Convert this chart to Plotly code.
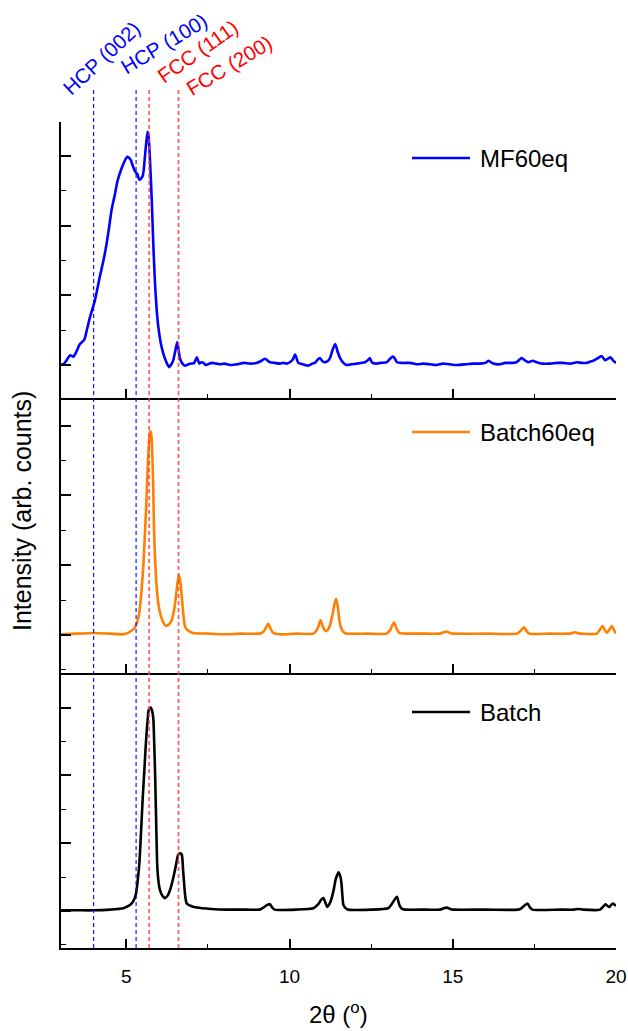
import plotly.graph_objects as go

# ---------------- data ----------------
series_names = ["MF60eq", "Batch60eq", "Batch"]
series_colors = ["#0000ff", "#ff8000", "#000000"]

mf_x = [3.00, 3.10, 3.20, 3.28, 3.38, 3.48, 3.58, 3.71, 3.80, 3.89, 4.04, 4.19, 4.30, 4.40, 4.48,
        4.55, 4.65, 4.74, 4.86, 4.95, 5.03, 5.13, 5.20, 5.27, 5.34, 5.40, 5.50, 5.58, 5.65, 5.68,
        5.73, 5.78, 5.83, 5.88, 5.93, 5.98, 6.05, 6.13, 6.22, 6.31, 6.38, 6.44, 6.50, 6.56, 6.60,
        6.64, 6.72, 6.80, 6.90, 7.00, 7.08, 7.16, 7.24, 7.30, 7.36, 7.44, 7.55, 7.65, 7.76, 7.87,
        8.00, 8.18, 8.40, 8.60, 8.80, 8.99, 9.10, 9.25, 9.40, 9.55, 9.70, 9.81, 9.92, 10.01, 10.10,
        10.17, 10.27, 10.40, 10.57, 10.70, 10.78, 10.85, 10.93, 11.02, 11.09, 11.18, 11.24, 11.32,
        11.40, 11.48, 11.55, 11.65, 11.75, 11.90, 12.06, 12.20, 12.31, 12.40, 12.46, 12.52, 12.65,
        12.80, 12.98, 13.08, 13.16, 13.22, 13.29, 13.45, 13.69, 13.90, 14.10, 14.30, 14.50, 14.70,
        14.90, 15.12, 15.40, 15.60, 15.83, 16.00, 16.09, 16.24, 16.45, 16.60, 16.75, 16.95, 17.05,
        17.11, 17.20, 17.31, 17.45, 17.57, 17.75, 17.98, 18.20, 18.38, 18.60, 18.80, 18.95, 19.10,
        19.22, 19.30, 19.42, 19.56, 19.66, 19.75, 19.83, 19.92, 20.00]
mf_y = [0.00, 0.02, 0.09, 0.14, 0.12, 0.20, 0.30, 0.36, 0.52, 0.69, 0.93, 1.27, 1.50, 1.75, 2.00,
        2.23, 2.45, 2.66, 2.83, 2.93, 2.99, 2.95, 2.86, 2.78, 2.74, 2.66, 2.71, 3.04, 3.35, 3.30,
        2.90, 2.37, 1.70, 1.17, 0.80, 0.55, 0.33, 0.17, 0.05, -0.03, 0.01, 0.07, 0.20, 0.33, 0.22,
        0.10, 0.02, -0.01, 0.01, 0.02, 0.03, 0.11, 0.02, 0.04, 0.03, 0.00, 0.02, 0.03, 0.02, 0.01,
        0.02, 0.00, 0.01, 0.03, 0.02, 0.03, 0.05, 0.09, 0.04, 0.03, 0.02, 0.03, 0.02, 0.04, 0.08,
        0.15, 0.03, 0.01, -0.01, 0.02, 0.03, 0.07, 0.10, 0.05, 0.04, 0.06, 0.10, 0.22,
        0.30, 0.18, 0.10, 0.03, 0.00, 0.01, 0.02, 0.03, 0.04, 0.07, 0.10, 0.04, 0.02,
        0.03, 0.04, 0.09, 0.12, 0.10, 0.04, 0.03, 0.03, 0.01, 0.02, 0.01, 0.00, 0.02,
        0.01, 0.00, 0.01, 0.02, 0.02, 0.03, 0.06, 0.02, 0.01, 0.03, 0.03, 0.04, 0.08,
        0.10, 0.07, 0.04, 0.06, 0.04, 0.02, 0.02, 0.03, 0.03, 0.02, 0.04, 0.03, 0.03,
        0.05, 0.06, 0.09, 0.13, 0.07, 0.09, 0.11, 0.06, 0.03]

b60_x = [3.00, 3.50, 3.99, 4.50, 4.91, 5.05, 5.16, 5.25, 5.32, 5.38, 5.42, 5.47, 5.52, 5.56, 5.60,
         5.64, 5.67, 5.71, 5.74, 5.77, 5.80, 5.83, 5.85, 5.89, 5.93, 5.98, 6.05, 6.13, 6.22, 6.30,
         6.39, 6.46, 6.52, 6.57, 6.61, 6.65, 6.70, 6.75, 6.80, 6.90, 7.05, 7.50, 7.97, 8.50, 9.09,
         9.18, 9.25, 9.35, 9.42, 9.50, 9.70, 10.20, 10.73, 10.82, 10.88, 10.95, 11.02, 11.10, 11.17,
         11.24, 11.32, 11.38, 11.43, 11.48, 11.53, 11.58, 11.66, 11.75, 12.40, 12.97, 13.08, 13.20,
         13.28, 13.36, 13.60, 14.20, 14.61, 14.72, 14.81, 14.92, 15.01, 16.00, 16.96, 17.08, 17.18,
         17.27, 17.34, 18.00, 18.59, 18.74, 18.90, 19.41, 19.50, 19.59, 19.66, 19.72, 19.80, 19.87,
         19.93, 20.00]
b60_y = [0.01, 0.02, 0.03, 0.02, 0.01, 0.03, 0.06, 0.10, 0.17, 0.27, 0.41, 0.65, 0.98, 1.35, 1.74,
         2.20, 2.55, 2.85, 2.92, 2.85, 2.55, 2.00, 1.50, 1.00, 0.69, 0.45, 0.29, 0.18, 0.13, 0.15,
         0.21, 0.35, 0.55, 0.75, 0.86, 0.78, 0.55, 0.28, 0.12, 0.06, 0.03, 0.02, 0.01, 0.02, 0.02,
         0.04, 0.08, 0.16, 0.09, 0.03, 0.01, 0.02, 0.02, 0.06, 0.12, 0.21, 0.12, 0.06, 0.07,
         0.14, 0.30, 0.45, 0.52, 0.40, 0.20, 0.10, 0.04, 0.02, 0.02, 0.02, 0.07, 0.18,
         0.09, 0.03, 0.02, 0.02, 0.02, 0.04, 0.05, 0.03, 0.02, 0.02, 0.02, 0.06, 0.11,
         0.05, 0.02, 0.02, 0.02, 0.04, 0.02, 0.02, 0.07, 0.13, 0.07, 0.03, 0.08, 0.13,
         0.08, 0.02]

batch_x = [3.00, 3.50, 4.00, 4.50, 4.91, 5.05, 5.16, 5.24, 5.30, 5.35, 5.40, 5.45, 5.50, 5.55, 5.60,
           5.65, 5.69, 5.75, 5.80, 5.83, 5.86, 5.89, 5.92, 5.95, 5.99, 6.03, 6.10, 6.19, 6.27, 6.34,
           6.42, 6.49, 6.55, 6.59, 6.65, 6.70, 6.74, 6.77, 6.81, 6.85, 7.00, 7.16, 7.60, 8.10, 8.70,
           9.09, 9.20, 9.32, 9.40, 9.47, 9.55, 10.20, 10.73, 10.88, 10.96, 11.04, 11.10, 11.16, 11.22,
           11.29, 11.36, 11.41, 11.50, 11.55, 11.59, 11.62, 11.65, 11.72, 11.80, 12.50, 13.02, 13.10,
           13.18, 13.29, 13.34, 13.38, 13.45, 13.54, 14.20, 14.62, 14.72, 14.82, 14.92, 15.02, 16.00,
           17.00, 17.10, 17.20, 17.29, 17.37, 17.44, 18.30, 18.71, 18.85, 19.00, 19.51, 19.60, 19.68,
           19.75, 19.80, 19.85, 19.91, 19.96, 20.00]
batch_y = [0.01, 0.01, 0.01, 0.02, 0.04, 0.07, 0.11, 0.17, 0.26, 0.45, 0.70, 1.15, 1.64, 2.05, 2.47,
           2.80, 2.97, 3.00, 2.93, 2.82, 2.40, 1.88, 1.20, 0.65, 0.42, 0.31, 0.23, 0.19, 0.23, 0.31,
           0.45, 0.60, 0.75, 0.83, 0.85, 0.83, 0.60, 0.41, 0.20, 0.11, 0.07, 0.05, 0.03, 0.02, 0.02,
           0.02, 0.05, 0.09, 0.10, 0.05, 0.02, 0.02, 0.04, 0.10, 0.16, 0.19, 0.12, 0.06, 0.10,
           0.19, 0.33, 0.46, 0.57, 0.52, 0.41, 0.22, 0.09, 0.04, 0.02, 0.02, 0.04, 0.08,
           0.14, 0.21, 0.13, 0.07, 0.03, 0.02, 0.02, 0.02, 0.04, 0.05, 0.03, 0.02, 0.02,
           0.02, 0.04, 0.08, 0.11, 0.05, 0.02, 0.02, 0.02, 0.03, 0.02, 0.02, 0.06, 0.10,
           0.07, 0.06, 0.09, 0.11, 0.09, 0.08]

ref_positions = [4.0, 5.3, 5.7, 6.6]
ref_labels = ["HCP (002)", "HCP (100)", "FCC (111)", "FCC (200)"]
ref_colors = ["#0000ff", "#0000ff", "#ff0000", "#ff0000"]

x_ticks = [5, 10, 15, 20]

# ---------------- figure ----------------
W, H = 628, 1031
ML, MR, MT, MB = 61, 12, 122, 83
plot_h = H - MT - MB
plot_w = W - ML - MR

def py2paper(py):
    return (H - MB - py) / plot_h

def px2paper(px):
    return (px - ML) / plot_w

font_family = "Arial, Liberation Sans, sans-serif"

fig = go.Figure()
xs = [mf_x, b60_x, batch_x]
ys = [mf_y, b60_y, batch_y]
yrefs = ["y", "y2", "y3"]
xrefs = ["x", "x2", "x3"]
for i in range(3):
    fig.add_trace(go.Scatter(x=xs[i], y=ys[i], mode="lines", name=series_names[i],
                             line=dict(color=series_colors[i], width=2.6, shape="spline", smoothing=0.6),
                             xaxis=xrefs[i], yaxis=yrefs[i], showlegend=False))

# panel boundaries (pixels)
bounds = [(122, 398), (398, 673), (673, 948)]
yranges = [[-0.474, 3.49], [-0.544, 3.395], [-0.546, 3.51]]

axis_common = dict(showline=True, linecolor="black", linewidth=2, mirror=False,
                   showgrid=False, zeroline=False, ticks="inside", tickcolor="black",
                   automargin=False)
layout = dict(width=W, height=H, margin=dict(l=ML, r=MR, t=MT, b=MB, autoexpand=False),
              paper_bgcolor="white", plot_bgcolor="white",
              font=dict(family=font_family, color="black"))
for i in range(3):
    top, bot = bounds[i]
    dom = [py2paper(bot), py2paper(top)]
    suffix = "" if i == 0 else str(i + 1)
    layout["xaxis" + suffix] = dict(axis_common, domain=[0, 1], anchor="y" + suffix,
                                    range=[3, 20], tickvals=x_ticks, ticklen=9, tickwidth=1.6,
                                    minor=dict(dtick=2.5, tick0=0, ticklen=4, tickwidth=1.4,
                                               ticks="inside", tickcolor="black", showgrid=False),
                                    showticklabels=(i == 2), tickfont=dict(size=19),
                                    ticklabelstandoff=10,
                                    **({} if i == 0 else dict(matches="x")))
    layout["yaxis" + suffix] = dict(axis_common, domain=dom, anchor="x" + suffix,
                                    range=yranges[i], tick0=0, dtick=1, ticklen=10, tickwidth=1.6,
                                    minor=dict(dtick=0.5, tick0=0, ticklen=5, tickwidth=1.4,
                                               ticks="inside", tickcolor="black", showgrid=False),
                                    showticklabels=False)
fig.update_layout(**layout)

# reference lines across all panels
for xv, c in zip(ref_positions, ref_colors):
    if c == "#0000ff":
        line = dict(color="#0000ff", width=1.1, dash="4px,3px")
    else:
        line = dict(color="rgba(255,60,60,0.8)", width=1.8, dash="4px,3px")
    fig.add_shape(type="line", xref="x3", yref="paper", x0=xv, x1=xv,
                  y0=0, y1=py2paper(87), line=line, layer="above")

# rotated labels
label_shift = [7, 28, 48, 50]
label_py = [58, 44, 51, 65]
label_angle = [-43, -31, -35, -31]
for xv, lab, c, sh, lpy, ang in zip(ref_positions, ref_labels, ref_colors, label_shift, label_py, label_angle):
    fig.add_annotation(x=xv, xref="x3", y=py2paper(lpy), yref="paper", text=lab,
                       showarrow=False, textangle=ang, xshift=sh,
                       font=dict(size=20.5, color=c, family=font_family),
                       xanchor="center", yanchor="middle")

# manual legends
legend_py = [158, 432, 712]
for name, col, lpy in zip(series_names, series_colors, legend_py):
    fig.add_shape(type="line", xref="paper", yref="paper",
                  x0=px2paper(412), x1=px2paper(470), y0=py2paper(lpy), y1=py2paper(lpy),
                  line=dict(color=col, width=2.6))
    fig.add_annotation(x=px2paper(478), y=py2paper(lpy), xref="paper", yref="paper",
                       text=name, showarrow=False, xanchor="left", yanchor="middle",
                       font=dict(size=24, color="black", family=font_family))

# axis titles
fig.add_annotation(x=px2paper(22), y=py2paper(511), xref="paper", yref="paper",
                   text="Intensity (arb. counts)", textangle=-90, showarrow=False,
                   xanchor="center", yanchor="middle",
                   font=dict(size=25, color="black", family=font_family))
fig.add_annotation(x=px2paper(338), y=py2paper(1013), xref="paper", yref="paper",
                   text="2θ (<sup>o</sup>)", showarrow=False,
                   xanchor="center", yanchor="middle",
                   font=dict(size=24, color="black", family=font_family))

fig.write_html("out.html")
